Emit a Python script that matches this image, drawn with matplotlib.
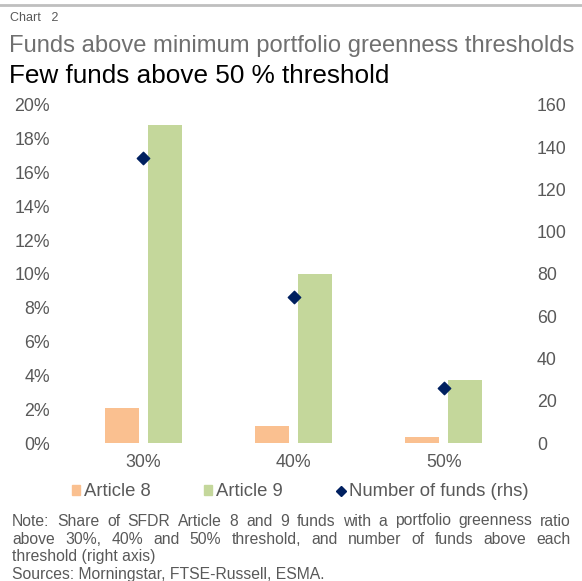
import numpy as np
import matplotlib.pyplot as plt
from matplotlib.lines import Line2D
from matplotlib.patches import Patch

plt.rcParams['font.family'] = ['Liberation Sans', 'DejaVu Sans']

thresholds = ['30%', '40%', '50%']
article8 = [2.1, 1.0, 0.35]      # share of funds, %
article9 = [18.8, 10.0, 3.7]     # share of funds, %
n_funds = [135, 69, 26]          # number of funds (rhs)

grey = '#595959'
c8 = '#FAC090'
c9 = '#C4D79B'
navy = '#002060'

fig = plt.figure(figsize=(5.82, 5.81), dpi=100)
W, H = 582, 581

def fx(px):
    return px / W

def fy(py):
    return 1 - py / H

# rule across the top
fig.add_artist(Line2D([0, 1], [fy(5), fy(5)], color='#BFBFBF', lw=2))

fig.text(fx(10), fy(18), 'Chart   2', fontsize=9, color=grey, va='center')
fig.text(fx(9), fy(46), 'Funds above minimum portfolio greenness thresholds',
         fontsize=17.1, color='#707070', va='center')
fig.text(fx(9), fy(76), 'Few funds above 50 % threshold',
         fontsize=18.8, color='black', va='center')

ax = fig.add_axes([fx(68), fy(443), fx(519 - 68), (443 - 105) / H])
x = np.arange(len(thresholds))
w = 0.227
ax.bar(x - 0.143, article8, w, color=c8)
ax.bar(x + 0.143, article9, w, color=c9)
ax.set_ylim(0, 20)
ax.set_xlim(-0.5, 2.5)
ax.set_yticks(np.arange(0, 21, 2))
ax.set_yticklabels([f'{v}%' for v in range(0, 21, 2)])
ax.set_xticks(x)
ax.set_xticklabels(thresholds)

ax2 = ax.twinx()
ax2.scatter(x, n_funds, marker='D', s=40, color=navy, zorder=3)
ax2.set_ylim(0, 160)
ax2.set_yticks(np.arange(0, 161, 20))

for a in (ax, ax2):
    for s in a.spines.values():
        s.set_visible(False)
    a.tick_params(length=0, labelsize=12.8, labelcolor=grey)
ax.tick_params(axis='y', pad=13)
ax.tick_params(axis='x', pad=8)
ax2.tick_params(axis='y', pad=13)

handles = [Patch(color=c8), Patch(color=c9),
           Line2D([], [], marker='D', ls='', color=navy, markersize=5)]
fig.legend(handles, ['Article 8', 'Article 9', 'Number of funds (rhs)'],
           loc='center', bbox_to_anchor=(fx(300), fy(492)), ncol=3,
           frameon=False, fontsize=13.3, labelcolor=grey,
           handlelength=0.45, handleheight=0.45, handletextpad=0.2,
           columnspacing=2.9, borderpad=0)


def justify(words, y, x0, x1, size, color):
    """Lay out words so the line fills x0..x1 exactly."""
    r = fig.canvas.get_renderer()
    texts = [fig.text(0, y, wd, fontsize=size, color=color, va='center') for wd in words]
    widths = [t.get_window_extent(r).width for t in texts]
    gap = (x1 - x0 - sum(widths)) / (len(words) - 1)
    pos = x0
    for t, wd in zip(texts, widths):
        t.set_x(fx(pos))
        pos += wd + gap


fig.canvas.draw()
note_lines = [
    'Note: Share of SFDR Article 8 and 9 funds with a portfolio greenness ratio',
    'above 30%, 40% and 50% threshold, and number of funds above each',
]
x0, x1 = 12, 571
for i, line in enumerate(note_lines):
    justify(line.split(), fy(521 + 18 * i), x0, x1, 11.3, grey)
fig.text(fx(x0), fy(557), 'threshold (right axis)', fontsize=11.3, color=grey, va='center')
fig.text(fx(x0), fy(575), 'Sources: Morningstar, FTSE-Russell, ESMA.', fontsize=11.3,
         color=grey, va='center')

fig.savefig('out.png', dpi=100)
